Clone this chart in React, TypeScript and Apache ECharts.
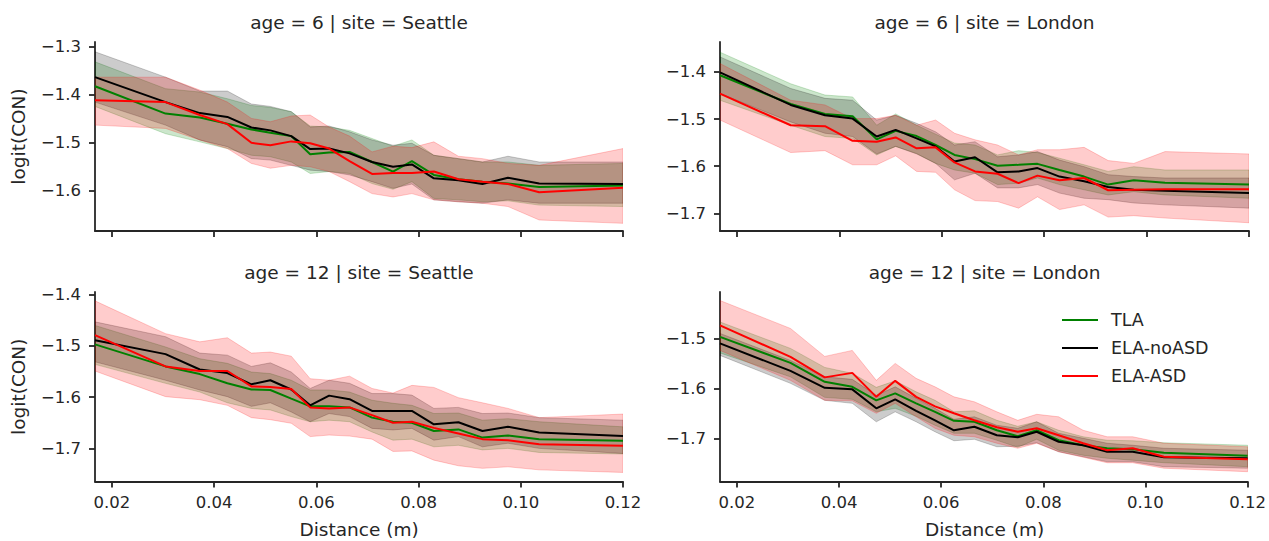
import React, { useEffect, useRef } from "react";
import * as echarts from "echarts";

// ---------- data ----------
const distance = [0.0167, 0.0305, 0.0372, 0.0426, 0.0473, 0.051, 0.0551, 0.0588, 0.0625, 0.0665, 0.0709, 0.075, 0.0787, 0.083, 0.0878, 0.0925, 0.0975, 0.1036, 0.12];
const groups = ["TLA", "ELA-noASD", "ELA-ASD"];
const xTicks = [0.02, 0.04, 0.06, 0.08, 0.1, 0.12];
const yTicks6Seattle = [-1.6, -1.5, -1.4, -1.3];
const yTicks6London = [-1.7, -1.6, -1.5, -1.4];
const yTicks12Seattle = [-1.7, -1.6, -1.5, -1.4];
const yTicks12London = [-1.7, -1.6, -1.5];

// age 6, Seattle
const s6TlaMean = [-1.382, -1.439, -1.447, -1.46, -1.472, -1.479, -1.486, -1.524, -1.52, -1.519, -1.54, -1.56, -1.538, -1.567, -1.576, -1.581, -1.585, -1.592, -1.589];
const s6TlaLo = [-1.424, -1.481, -1.498, -1.512, -1.526, -1.529, -1.54, -1.564, -1.56, -1.564, -1.585, -1.597, -1.581, -1.616, -1.619, -1.623, -1.621, -1.63, -1.633];
const s6TlaHi = [-1.331, -1.387, -1.394, -1.408, -1.422, -1.426, -1.435, -1.465, -1.467, -1.474, -1.491, -1.507, -1.494, -1.526, -1.533, -1.54, -1.54, -1.547, -1.543];
const s6NoMean = [-1.363, -1.415, -1.438, -1.446, -1.468, -1.474, -1.486, -1.513, -1.512, -1.522, -1.54, -1.55, -1.545, -1.574, -1.578, -1.586, -1.573, -1.585, -1.586];
const s6NoLo = [-1.415, -1.463, -1.494, -1.508, -1.533, -1.536, -1.547, -1.557, -1.56, -1.567, -1.581, -1.595, -1.586, -1.619, -1.623, -1.626, -1.619, -1.626, -1.626];
const s6NoHi = [-1.31, -1.363, -1.392, -1.392, -1.419, -1.424, -1.435, -1.467, -1.465, -1.477, -1.494, -1.505, -1.501, -1.526, -1.533, -1.54, -1.528, -1.54, -1.54];
const s6AsdMean = [-1.411, -1.415, -1.442, -1.461, -1.5, -1.505, -1.497, -1.501, -1.512, -1.538, -1.565, -1.563, -1.563, -1.56, -1.576, -1.581, -1.586, -1.603, -1.594];
const s6AsdLo = [-1.463, -1.47, -1.494, -1.512, -1.543, -1.553, -1.547, -1.55, -1.56, -1.581, -1.606, -1.613, -1.606, -1.619, -1.623, -1.626, -1.633, -1.661, -1.668];
const s6AsdHi = [-1.363, -1.363, -1.39, -1.415, -1.449, -1.456, -1.444, -1.442, -1.467, -1.486, -1.519, -1.507, -1.51, -1.498, -1.528, -1.533, -1.543, -1.547, -1.512];

// age 6, London
const l6TlaMean = [-1.407, -1.468, -1.489, -1.494, -1.543, -1.525, -1.536, -1.555, -1.576, -1.585, -1.599, -1.597, -1.595, -1.608, -1.622, -1.639, -1.63, -1.635, -1.639];
const l6TlaLo = [-1.46, -1.513, -1.537, -1.541, -1.576, -1.558, -1.573, -1.594, -1.608, -1.615, -1.639, -1.636, -1.625, -1.639, -1.65, -1.661, -1.654, -1.661, -1.668];
const l6TlaHi = [-1.358, -1.425, -1.449, -1.453, -1.513, -1.489, -1.513, -1.532, -1.551, -1.555, -1.576, -1.567, -1.571, -1.583, -1.597, -1.611, -1.601, -1.608, -1.608];
const l6NoMean = [-1.401, -1.47, -1.492, -1.499, -1.537, -1.523, -1.541, -1.558, -1.59, -1.581, -1.613, -1.611, -1.604, -1.622, -1.632, -1.644, -1.65, -1.652, -1.657];
const l6NoLo = [-1.446, -1.506, -1.53, -1.537, -1.574, -1.558, -1.574, -1.594, -1.629, -1.615, -1.646, -1.646, -1.639, -1.657, -1.668, -1.671, -1.678, -1.682, -1.689];
const l6NoHi = [-1.368, -1.435, -1.456, -1.46, -1.502, -1.492, -1.509, -1.527, -1.555, -1.548, -1.58, -1.576, -1.569, -1.587, -1.601, -1.618, -1.622, -1.625, -1.625];
const l6AsdMean = [-1.446, -1.513, -1.515, -1.546, -1.548, -1.539, -1.562, -1.56, -1.592, -1.611, -1.616, -1.636, -1.62, -1.63, -1.625, -1.651, -1.65, -1.649, -1.649];
const l6AsdLo = [-1.502, -1.571, -1.567, -1.597, -1.597, -1.578, -1.611, -1.613, -1.65, -1.673, -1.675, -1.689, -1.665, -1.692, -1.682, -1.708, -1.705, -1.71, -1.72];
const l6AsdHi = [-1.382, -1.46, -1.47, -1.499, -1.499, -1.492, -1.513, -1.502, -1.53, -1.544, -1.555, -1.576, -1.565, -1.565, -1.56, -1.588, -1.594, -1.569, -1.574];

// age 12, Seattle
const s12TlaMean = [-1.497, -1.54, -1.555, -1.573, -1.585, -1.586, -1.603, -1.618, -1.618, -1.62, -1.64, -1.648, -1.65, -1.666, -1.663, -1.679, -1.675, -1.682, -1.685];
const s12TlaLo = [-1.536, -1.573, -1.59, -1.611, -1.622, -1.625, -1.638, -1.648, -1.645, -1.648, -1.668, -1.684, -1.682, -1.697, -1.694, -1.703, -1.7, -1.708, -1.711];
const s12TlaHi = [-1.46, -1.502, -1.525, -1.534, -1.551, -1.554, -1.567, -1.586, -1.586, -1.59, -1.606, -1.612, -1.616, -1.632, -1.631, -1.645, -1.642, -1.648, -1.658];
const s12NoMean = [-1.489, -1.516, -1.546, -1.553, -1.575, -1.567, -1.585, -1.616, -1.597, -1.604, -1.627, -1.627, -1.627, -1.653, -1.649, -1.666, -1.658, -1.669, -1.676];
const s12NoLo = [-1.531, -1.567, -1.586, -1.599, -1.618, -1.611, -1.629, -1.648, -1.632, -1.638, -1.661, -1.664, -1.661, -1.684, -1.677, -1.697, -1.69, -1.7, -1.71];
const s12NoHi = [-1.453, -1.482, -1.514, -1.518, -1.54, -1.533, -1.551, -1.583, -1.567, -1.573, -1.593, -1.593, -1.596, -1.622, -1.62, -1.632, -1.631, -1.64, -1.645];
const s12AsdMean = [-1.479, -1.54, -1.549, -1.549, -1.579, -1.58, -1.584, -1.62, -1.622, -1.62, -1.635, -1.65, -1.648, -1.66, -1.671, -1.682, -1.684, -1.692, -1.695];
const s12AsdLo = [-1.549, -1.599, -1.605, -1.616, -1.64, -1.644, -1.651, -1.677, -1.674, -1.676, -1.682, -1.706, -1.705, -1.723, -1.734, -1.739, -1.736, -1.742, -1.747];
const s12AsdHi = [-1.412, -1.476, -1.492, -1.484, -1.514, -1.512, -1.52, -1.564, -1.567, -1.559, -1.583, -1.592, -1.577, -1.581, -1.601, -1.611, -1.622, -1.64, -1.633];

// age 12, London
const l12TlaMean = [-1.496, -1.548, -1.586, -1.596, -1.623, -1.609, -1.629, -1.646, -1.664, -1.666, -1.683, -1.695, -1.683, -1.703, -1.713, -1.719, -1.721, -1.728, -1.734];
const l12TlaLo = [-1.528, -1.576, -1.617, -1.621, -1.646, -1.639, -1.655, -1.673, -1.689, -1.689, -1.703, -1.717, -1.701, -1.723, -1.733, -1.739, -1.743, -1.748, -1.756];
const l12TlaHi = [-1.466, -1.519, -1.557, -1.569, -1.597, -1.584, -1.606, -1.623, -1.646, -1.644, -1.663, -1.675, -1.666, -1.683, -1.696, -1.703, -1.704, -1.708, -1.713];
const l12NoMean = [-1.509, -1.564, -1.598, -1.601, -1.639, -1.621, -1.644, -1.663, -1.683, -1.676, -1.693, -1.697, -1.686, -1.706, -1.713, -1.726, -1.726, -1.737, -1.739];
const l12NoLo = [-1.533, -1.589, -1.623, -1.629, -1.666, -1.646, -1.666, -1.686, -1.704, -1.701, -1.716, -1.715, -1.708, -1.726, -1.736, -1.746, -1.746, -1.756, -1.759];
const l12NoHi = [-1.489, -1.543, -1.576, -1.581, -1.613, -1.596, -1.619, -1.639, -1.661, -1.656, -1.673, -1.679, -1.666, -1.689, -1.699, -1.709, -1.713, -1.719, -1.723];
const l12AsdMean = [-1.473, -1.536, -1.577, -1.568, -1.616, -1.584, -1.616, -1.635, -1.649, -1.663, -1.677, -1.686, -1.679, -1.693, -1.709, -1.723, -1.719, -1.736, -1.741];
const l12AsdLo = [-1.523, -1.583, -1.623, -1.624, -1.649, -1.629, -1.656, -1.679, -1.693, -1.696, -1.709, -1.719, -1.709, -1.726, -1.737, -1.748, -1.748, -1.759, -1.766];
const l12AsdHi = [-1.423, -1.479, -1.535, -1.523, -1.583, -1.549, -1.579, -1.596, -1.616, -1.626, -1.646, -1.663, -1.651, -1.656, -1.683, -1.696, -1.696, -1.709, -1.716];

// ---------- layout / style ----------
const ink = "#262626";
const font = "DejaVu Sans";
const lineColors = ["#008000", "#000000", "#ff0000"];

const panels = [
  {
    title: "age = 6 | site = Seattle",
    grid: { left: 95, top: 42, width: 528, height: 189 },
    yMin: -1.684, yMax: -1.2896, yTicks: yTicks6Seattle, xLabels: false, yName: true,
    series: [[s6TlaMean, s6TlaLo, s6TlaHi], [s6NoMean, s6NoLo, s6NoHi], [s6AsdMean, s6AsdLo, s6AsdHi]],
  },
  {
    title: "age = 6 | site = London",
    grid: { left: 720, top: 42, width: 529, height: 189 },
    yMin: -1.7375, yMax: -1.3364, yTicks: yTicks6London, xLabels: false, yName: false,
    series: [[l6TlaMean, l6TlaLo, l6TlaHi], [l6NoMean, l6NoLo, l6NoHi], [l6AsdMean, l6AsdLo, l6AsdHi]],
  },
  {
    title: "age = 12 | site = Seattle",
    grid: { left: 95, top: 292, width: 528, height: 189.5 },
    yMin: -1.7647, yMax: -1.3947, yTicks: yTicks12Seattle, xLabels: true, yName: true,
    series: [[s12TlaMean, s12TlaLo, s12TlaHi], [s12NoMean, s12NoLo, s12NoHi], [s12AsdMean, s12AsdLo, s12AsdHi]],
  },
  {
    title: "age = 12 | site = London",
    grid: { left: 720, top: 292, width: 529, height: 189.5 },
    yMin: -1.7856, yMax: -1.406, yTicks: yTicks12London, xLabels: true, yName: false,
    series: [[l12TlaMean, l12TlaLo, l12TlaHi], [l12NoMean, l12NoLo, l12NoHi], [l12AsdMean, l12AsdLo, l12AsdHi]],
  },
];

const fmt = (v: number, d: number) => v.toFixed(d).replace("-", "\u2212");

function buildOption() {
  const series: any[] = [];
  panels.forEach((p, pi) => {
    p.series.forEach(([mean, lo, hi], gi) => {
      const color = lineColors[gi];
      const n = distance.length;
      series.push({
        type: "custom",
        xAxisIndex: pi,
        yAxisIndex: pi,
        silent: true,
        clip: true,
        z: 1,
        encode: { x: 0, y: [1, 2] },
        data: distance.map((x, i) => [x, lo[i], hi[i]]),
        renderItem: (params: any, api: any) => {
          if (params.dataIndex !== 0) return null;
          const top: number[][] = [];
          const bot: number[][] = [];
          for (let i = 0; i < n; i++) {
            top.push(api.coord([api.value(0, i), api.value(2, i)]));
            bot.push(api.coord([api.value(0, i), api.value(1, i)]));
          }
          return {
            type: "polygon",
            shape: { points: top.concat(bot.reverse()) },
            style: { fill: color, stroke: color, lineWidth: 1, opacity: 0.2 },
          };
        },
      });
    });
    p.series.forEach(([mean], gi) => {
      series.push({
        type: "line",
        name: groups[gi],
        xAxisIndex: pi,
        yAxisIndex: pi,
        silent: true,
        symbol: "none",
        z: 3 + gi,
        clip: true,
        lineStyle: { color: lineColors[gi], width: 2 },
        itemStyle: { color: lineColors[gi] },
        data: distance.map((x, i) => [x, mean[i]]),
      });
    });
  });

  const graphic: any[] = [];
  panels.forEach((p) => {
    const cx = p.grid.left + p.grid.width / 2;
    graphic.push({
      type: "text",
      x: cx,
      y: p.grid.top - 20,
      style: { text: p.title, fontSize: 18.5, fontFamily: font, fill: ink, textAlign: "center", textVerticalAlign: "middle" },
    });
    if (p.xLabels) {
      graphic.push({
        type: "text",
        x: cx,
        y: 529,
        style: { text: "Distance (m)", fontSize: 18.5, fontFamily: font, fill: ink, textAlign: "center", textVerticalAlign: "middle" },
      });
    }
    if (p.yName) {
      graphic.push({
        type: "text",
        x: 18,
        y: p.grid.top + p.grid.height / 2,
        rotation: Math.PI / 2,
        style: { text: "logit(CON)", fontSize: 18.5, fontFamily: font, fill: ink, textAlign: "center", textVerticalAlign: "middle" },
      });
    }
  });

  return {
    animation: false,
    backgroundColor: "#ffffff",
    grid: panels.map((p) => ({ ...p.grid, containLabel: false })),
    xAxis: panels.map((p, i) => ({
      type: "value",
      gridIndex: i,
      min: 0.0167,
      max: 0.12,
      axisLine: { show: true, onZero: false, lineStyle: { color: ink, width: 1.8 } },
      axisTick: { show: true, length: 6, customValues: xTicks, lineStyle: { color: ink, width: 1.8 } },
      axisLabel: {
        show: p.xLabels,
        customValues: xTicks,
        formatter: (v: number) => fmt(v, 2),
        fontSize: 16.5,
        fontFamily: font,
        color: ink,
        margin: 12,
      },
      splitLine: { show: false },
    })),
    yAxis: panels.map((p, i) => ({
      type: "value",
      gridIndex: i,
      min: p.yMin,
      max: p.yMax,
      axisLine: { show: true, onZero: false, lineStyle: { color: ink, width: 1.8 } },
      axisTick: { show: true, length: 6, customValues: p.yTicks, lineStyle: { color: ink, width: 1.8 } },
      axisLabel: {
        customValues: p.yTicks,
        formatter: (v: number) => fmt(v, 1),
        fontSize: 16.5,
        fontFamily: font,
        color: ink,
        margin: 14,
      },
      splitLine: { show: false },
    })),
    legend: {
      data: groups.map((g) => ({ name: g, icon: "rect" })),
      orient: "vertical",
      left: 1062,
      top: 311,
      padding: 0,
      itemWidth: 36,
      itemHeight: 2,
      itemGap: 10,
      selectedMode: false,
      textStyle: { fontSize: 17.5, fontFamily: font, color: ink, padding: [0, 0, 0, 8] },
    },
    series,
    graphic,
  };
}

export default function App() {
  const ref = useRef<HTMLDivElement>(null);
  useEffect(() => {
    if (!ref.current) return;
    const chart = echarts.init(ref.current, null, { renderer: "svg" });
    chart.setOption(buildOption() as any);
    return () => chart.dispose();
  }, []);
  return <div ref={ref} style={{ position: "fixed", left: 0, top: 0, width: 1269, height: 541, background: "#fff" }} />;
}
